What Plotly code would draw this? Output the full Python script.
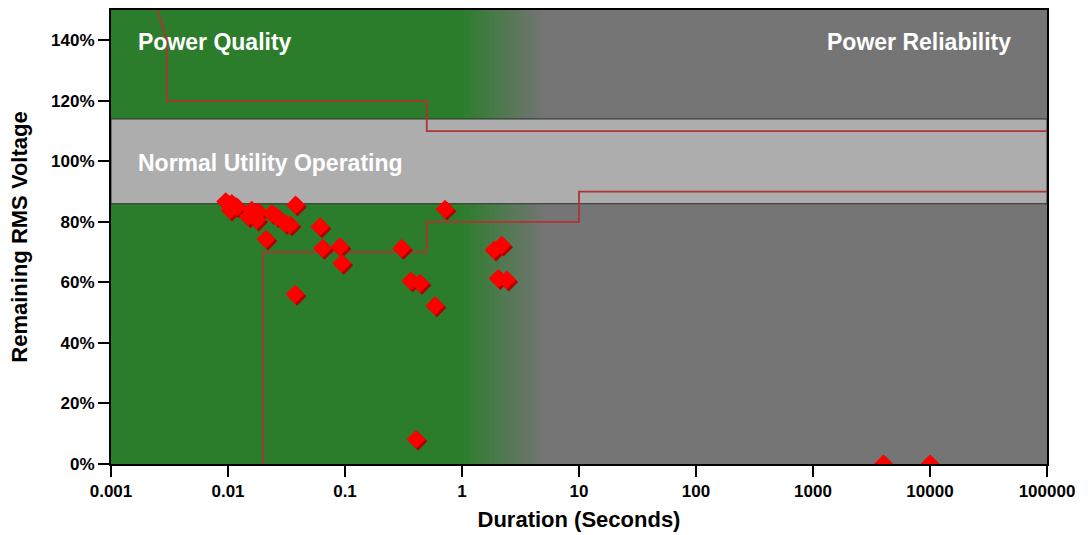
import math
import plotly.graph_objects as go

# ---------------- data ----------------
duration_s = [0.00955, 0.01077, 0.01186, 0.0104, 0.01596, 0.01816, 0.01493, 0.01758,
              0.02366, 0.02608, 0.0307, 0.0339, 0.0378, 0.0211, 0.0611, 0.0644,
              0.0906, 0.0938, 0.0374, 0.305, 0.365, 0.438, 0.587, 0.716, 0.405,
              1.88, 2.18, 2.04, 2.41, 4000, 10000]
remaining_pct = [86.7, 86.1, 85.0, 83.9, 83.9, 83.3, 81.7, 80.6,
                 82.8, 81.7, 79.5, 79.0, 85.6, 74.3, 78.4, 71.3,
                 71.8, 66.3, 56.1, 71.3, 60.5, 59.7, 52.3, 84.2, 8.2,
                 70.7, 72.3, 61.3, 60.8, 0, 0]

# ITIC-style tolerance envelope
upper_x = [0.001, 0.003, 0.003, 0.5, 0.5, 100000]
upper_y = [200, 140, 120, 120, 110, 110]
lower_x = [0.02, 0.02, 0.5, 0.5, 10, 10, 100000]
lower_y = [0, 70, 70, 80, 80, 90, 90]

normal_band = [86, 114]           # % normal utility operating band
quality_end, reliability_start = 0.95, 5.2  # seconds, gradient transition

x_tickvals = [0.001, 0.01, 0.1, 1, 10, 100, 1000, 10000, 100000]
x_ticktext = ["0.001", "0.01", "0.1", "1", "10", "100", "1000", "10000", "100000"]
y_tickvals = [0, 20, 40, 60, 80, 100, 120, 140]

# ---------------- style ----------------
GREEN = (43, 125, 43)
GRAY = (117, 117, 117)
BAND = "#adadad"
LINE_RED = "#b03434"
FONT = "Liberation Sans, Arial, sans-serif"
XMIN, XMAX = -3, 5
W, H = 1088, 535
ML, MR, MT, MB = 111, 41, 10, 71
plot_w = W - ML - MR
plot_h = H - MT - MB
YMAX = 150


def to_paper(v):
    return (math.log10(v) - XMIN) / (XMAX - XMIN)


def rgb(c):
    return "rgb(%d,%d,%d)" % c


shapes = []
p0, p1 = to_paper(quality_end), to_paper(reliability_start)
# gray base over the full width, then green, then gradient steps on top
shapes.append(dict(type="rect", xref="paper", yref="paper", x0=0, x1=1, y0=0, y1=1,
                   fillcolor=rgb(GRAY), line_width=0, layer="below"))
shapes.append(dict(type="rect", xref="paper", yref="paper", x0=0, x1=p0 + 0.002, y0=0, y1=1,
                   fillcolor=rgb(GREEN), line_width=0, layer="below"))
n = 60
step = (p1 - p0) / n
for i in range(n):
    t = (i + 0.5) / n
    c = tuple(int(round(GREEN[k] + (GRAY[k] - GREEN[k]) * t)) for k in range(3))
    a = p0 + step * i
    shapes.append(dict(type="rect", xref="paper", yref="paper", x0=a, x1=a + step * 2.2,
                       y0=0, y1=1, fillcolor=rgb(c), line_width=0, layer="below"))
shapes.append(dict(type="rect", xref="paper", yref="y", x0=0, x1=1,
                   y0=normal_band[0], y1=normal_band[1], fillcolor=BAND,
                   line=dict(color="#303030", width=1), layer="below"))

fig = go.Figure()
fig.add_trace(go.Scatter(x=upper_x, y=upper_y, mode="lines",
                         line=dict(color=LINE_RED, width=1.8), hoverinfo="skip"))
fig.add_trace(go.Scatter(x=lower_x, y=lower_y, mode="lines",
                         line=dict(color=LINE_RED, width=1.8), hoverinfo="skip"))

# shadow for pseudo-3D diamond (offset by ~2px right/down)
dx = 10 ** (2.0 * (XMAX - XMIN) / plot_w)
dy = 2.0 * YMAX / plot_h
fig.add_trace(go.Scatter(x=[v * dx for v in duration_s], y=[v - dy for v in remaining_pct],
                         mode="markers",
                         marker=dict(symbol="diamond", size=14.5, color="#b00000",
                                     line=dict(width=0)), hoverinfo="skip"))
fig.add_trace(go.Scatter(x=duration_s, y=remaining_pct, mode="markers",
                         marker=dict(symbol="diamond", size=14.5, color="#ff0000",
                                     line=dict(width=0))))

ann_font = dict(family=FONT, size=23, color="white", weight="bold")
annotations = [
    dict(text="Power Quality", xref="paper", yref="y", x=(136 - ML) / plot_w, y=139.5,
         xanchor="left", yanchor="middle", showarrow=False, font=ann_font),
    dict(text="Power Reliability", xref="paper", yref="y", x=(1013 - ML) / plot_w, y=139.5,
         xanchor="right", yanchor="middle", showarrow=False, font=ann_font),
    dict(text="Normal Utility Operating", xref="paper", yref="y", x=(136 - ML) / plot_w, y=99.5,
         xanchor="left", yanchor="middle", showarrow=False, font=ann_font),
]

tick_font = dict(family=FONT, size=17, color="black", weight="bold")
fig.update_layout(
    width=W, height=H,
    margin=dict(l=ML, r=MR, t=MT, b=MB),
    paper_bgcolor="white", plot_bgcolor="white",
    showlegend=False,
    shapes=shapes, annotations=annotations,
    xaxis=dict(type="log", range=[XMIN, XMAX], tickvals=x_tickvals, ticktext=x_ticktext,
               tickfont=tick_font, ticks="outside", ticklen=11, tickwidth=2, tickcolor="black",
               showline=True, linecolor="black", linewidth=2, mirror=True,
               showgrid=False, zeroline=False, automargin=False,
               title=dict(text="Duration (Seconds)", standoff=11,
                          font=dict(family=FONT, size=22, color="black", weight="bold"))),
    yaxis=dict(range=[0, YMAX], tickvals=y_tickvals,
               ticktext=["%d%%" % v for v in y_tickvals],
               tickfont=tick_font, ticks="outside", ticklen=11, tickwidth=2, tickcolor="black",
               showline=True, linecolor="black", linewidth=2, mirror=True,
               showgrid=False, zeroline=False, automargin=False,
               title=dict(text="Remaining RMS Voltage", standoff=17,
                          font=dict(family=FONT, size=22, color="black", weight="bold"))),
)

fig.write_html("out.html")
